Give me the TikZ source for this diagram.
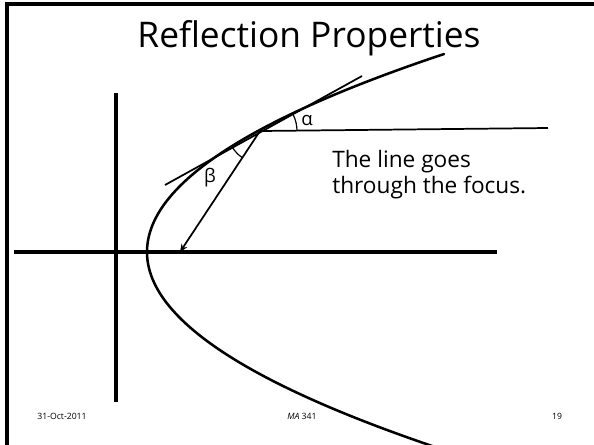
\documentclass[tikz,border=0pt]{standalone}
\usepackage{fontspec}
\setmainfont{Open Sans}
\usepackage{tikz}
\usetikzlibrary{arrows.meta, positioning, calc}

\begin{document}
\begin{tikzpicture}[
  x=0.75pt,y=-0.75pt,
  axis/.style={line width=2.6pt},
  curve/.style={line width=1.9pt,line cap=round},
  ray/.style={line width=1.3pt},
  ang/.style={line width=0.9pt},
  arr/.style={-{Stealth[length=6pt,width=5pt]},ray},
  ttl/.style={font=\fontsize{26.5}{30}\selectfont,inner sep=0pt},
  txt/.style={font=\fontsize{17}{20}\selectfont,inner sep=0pt},
  lbl/.style={font=\fontsize{14}{16}\selectfont,inner sep=0pt},
  foot/.style={font=\fontsize{6.5}{8}\selectfont,inner sep=0pt}
]
  \clip (0,0) rectangle (594,444);
  % slide frame
  \draw[axis] (7,450) -- (7,4) -- (600,4);
  \node[ttl,anchor=base] (title) at (309,47) {Reflection Properties};

  % axes and points
  \coordinate (xl) at (14,252);
  \coordinate (xr) at (497,252);
  \coordinate (yt) at (116,93);
  \coordinate (yb) at (116,402);
  \coordinate (F) at (180,252);
  \coordinate (P) at (260,131);
  \coordinate (tl) at (165,185);
  \coordinate (tr) at (362,76);
  \coordinate (hr) at (548,128);
  \foreach \a/\b in {xl/xr,yt/yb}
    \draw[axis] (\a)--(\b);

  % parabola, vertex (147,252)
  \draw[curve] plot[domain=54:470,samples=90,smooth]
    ({147+((\x-252)/11.489)^2},\x);

  \draw[ray] (tl)--(tr);
  \draw[ray] (P)--(hr);
  \draw[arr] (P)--(F);

  % angles
  \draw[ang] ($(P)+(37,0)$) arc[start angle=0,end angle=-26,radius=37];
  \draw[ang] ($(P)+(150.4:32)$) arc[start angle=150.4,end angle=123.5,radius=32];
  \node[lbl] (alpha) at (307,120) {α};
  \node[lbl] (beta) at (210,178) {β};

  \node[txt,anchor=base west] (l1) at (332,167) {The line goes};
  \node[txt,anchor=base west] (l2) at (332,193) {through the focus.};

  % footer
  \node[foot] (date) at (62,416) {31-Oct-2011};
  \node[foot] (course) at (302,416) {{\itshape MA} 341};
  \node[foot] (page) at (557,416) {19};
\end{tikzpicture}
\end{document}
